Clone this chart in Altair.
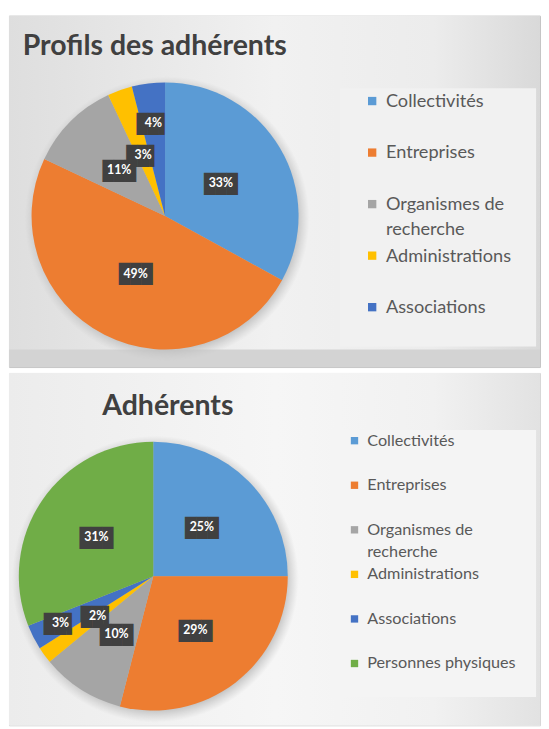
import altair as alt
import pandas as pd

# ---------------- data ----------------
top_title = "Profils des adhérents"
top_categories = ["Collectivités", "Entreprises", "Organismes de recherche",
                  "Administrations", "Associations"]
top_values = [33, 49, 11, 3, 4]

bottom_title = "Adhérents"
bottom_categories = ["Collectivités", "Entreprises", "Organismes de recherche",
                     "Administrations", "Associations", "Personnes physiques"]
bottom_values = [25, 29, 10, 2, 3, 31]

slice_colors = ["#5B9BD5", "#ED7D31", "#A5A5A5", "#FFC000", "#4472C4", "#70AD47"]

FONT = "Lato"


def grad(stops, horizontal=True):
    return alt.LinearGradient(
        gradient="linear",
        stops=[alt.GradientStop(color=c, offset=o) for o, c in stops],
        x1=0, y1=0, x2=1 if horizontal else 0, y2=0 if horizontal else 1,
    )


def panel(title, cats, vals, s):
    n = len(cats)
    df = pd.DataFrame({
        "cat": cats,
        "value": vals,
        "idx": list(range(n)),
        "label": [f"{v}%" for v in vals],
        "legend": [c.replace("Organismes de recherche", "Organismes de\nrecherche") for c in cats],
    })
    color = alt.Color("cat:N", scale=alt.Scale(domain=cats, range=slice_colors[:n]), legend=None)
    base = alt.Chart(df)
    one = alt.Chart(pd.DataFrame({"t": [title]}))

    layers = []
    # panel background
    layers.append(one.mark_rect(fill=s["bg"]).encode(
        x=alt.value(0), x2=alt.value(s["w"]), y=alt.value(0), y2=alt.value(s["h"])))
    # darker band (background decoration)
    if s.get("band"):
        y0, y1, col = s["band"]
        layers.append(one.mark_rect(fill=col).encode(
            x=alt.value(0), x2=alt.value(s["w"]), y=alt.value(y0), y2=alt.value(y1)))
    # legend box
    lx0, ly0, lx1, ly1 = s["legbox"]
    layers.append(one.mark_rect(fill=s["legfill"]).encode(
        x=alt.value(lx0), x2=alt.value(lx1), y=alt.value(ly0), y2=alt.value(ly1)))

    # soft shadow around pie
    shadow = alt.RadialGradient(
        gradient="radial", x1=0.5, y1=0.5, r1=0, x2=0.5, y2=0.5, r2=0.5,
        stops=[alt.GradientStop(color="#b8b8b8", offset=0),
               alt.GradientStop(color="#bdbdbd", offset=0.9),
               alt.GradientStop(color="rgba(200,200,200,0)", offset=1)])
    layers.append(one.mark_arc(theta=0, theta2=6.2832, outerRadius=s["r"] + 9, fill=shadow).encode(
        x=alt.value(s["cx"] + 2), y=alt.value(s["cy"] + 3)))

    # pie
    layers.append(base.mark_arc(outerRadius=s["r"]).encode(
        theta=alt.Theta("value:Q", stack=True),
        color=color,
        order=alt.Order("idx:Q"),
        x=alt.value(s["cx"]), y=alt.value(s["cy"]),
    ))

    # label positions: mid angle of each slice (radians), computed from the data
    lab = base.transform_joinaggregate(total="sum(value)").transform_window(
        cum="sum(value)", sort=[alt.SortField("idx")], frame=[None, 0]
    ).transform_calculate(
        mid="(datum.cum - datum.value / 2) / datum.total * 2 * PI",
        box="length(datum.label) < 3 ? '██▌' : '███'",
        lr=f"datum.cat == 'Associations' ? {s['far_r']} : {s['lab_r']}",
    )
    # dark label boxes
    layers.append(lab.mark_text(font="DejaVu Sans Mono", fontSize=19, color="#404040", dy=1).encode(
        theta=alt.Theta("mid:Q", scale=None, stack=None),
        radius=alt.Radius("lr:Q", scale=None),
        text="box:N",
        x=alt.value(s["cx"]), y=alt.value(s["cy"]),
    ))
    # label text
    layers.append(lab.mark_text(font=FONT, fontSize=12.5, fontWeight="bold", color="#ffffff").encode(
        theta=alt.Theta("mid:Q", scale=None, stack=None),
        radius=alt.Radius("lr:Q", scale=None),
        text="label:N",
        x=alt.value(s["cx"]), y=alt.value(s["cy"]),
    ))

    # title
    layers.append(one.mark_text(font=FONT, fontSize=s["tsize"], fontWeight="bold", color="#404040",
                                align=s["talign"], baseline="alphabetic").encode(
        text="t:N", x=alt.value(s["tx"]), y=alt.value(s["ty"])))

    # legend
    ypos = alt.Y("cat:N", sort=cats,
                 scale=alt.Scale(type="point", domain=cats, range=s["rows"], padding=0), axis=None)
    layers.append(base.mark_square(size=s["sq"], opacity=1).encode(
        x=alt.value(s["sqx"]), y=ypos, color=color))
    layers.append(base.mark_text(font=FONT, fontSize=s["lsize"], color="#595959", align="left",
                                 baseline="alphabetic", lineBreak="\n", lineHeight=s["lh"],
                                 dy=round(0.33 * s["lsize"])).encode(
        x=alt.value(s["lx"]), y=ypos, text="legend:N"))

    return alt.layer(*layers).properties(
        width=s["w"], height=s["h"],
        view=alt.ViewBackground(fill=None, stroke=s["stroke"], strokeWidth=1),
    )


top_style = dict(
    w=541, h=358,
    bg=grad([(0, "#dedede"), (0.5, "#f1f1f1"), (0.8, "#ececec"), (1, "#d9d9d9")]),
    stroke="#c4c4c4",
    band=(340, 358, "#d3d3d3"),
    legbox=(337, 74, 537, 337), legfill="#f1f1f1",
    cx=159, cy=204, r=136, lab_r=66, far_r=95,
    tx=14, ty=40, talign="left", tsize=29,
    rows=[87, 297], sqx=370, lx=384, lsize=18.5, lh=25, sq=72,
)

bottom_style = dict(
    w=541, h=359,
    bg=grad([(0, "#ececec"), (0.5, "#f6f6f6"), (0.8, "#f1f1f1"), (1, "#e2e2e2")]),
    stroke="#d6d6d6",
    band=None,
    legbox=(327, 58, 537, 330), legfill="#f4f4f4",
    cx=147, cy=207, r=137, lab_r=70, far_r=106,
    tx=95, ty=43, talign="left", tsize=29,
    rows=[69, 296], sqx=352, lx=365, lsize=16.5, lh=23, sq=56,
)

chart = alt.vconcat(
    panel(top_title, top_categories, top_values, top_style),
    panel(bottom_title, bottom_categories, bottom_values, bottom_style),
    spacing=4,
).resolve_scale(color="independent", y="independent").properties(
    padding=0, background="#ffffff"
)

chart.save("out.html", embed_options={"renderer": "svg", "actions": False})
